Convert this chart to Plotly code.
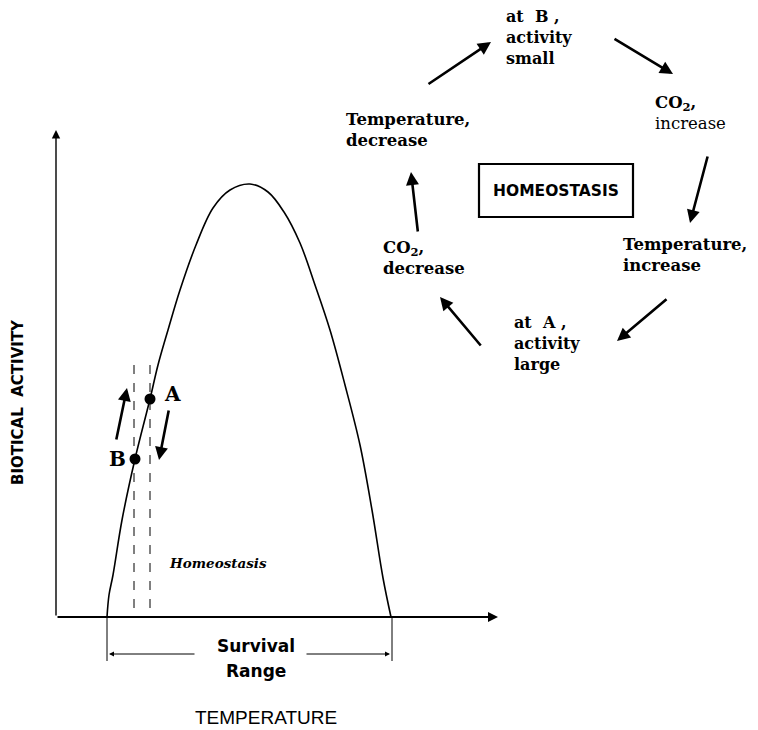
import plotly.graph_objects as go

# ---- data (temperature units ~ px, activity above baseline) ----
temperature = [107, 109, 113, 122, 135, 150, 158, 168, 180, 196, 213, 230, 250,
               268, 284, 300, 315, 330, 345, 360, 372, 383, 391]
activity = [0, 22, 42, 97, 158, 218, 252, 287, 327, 372, 409, 427, 433,
            425, 405, 374, 332, 287, 232, 172, 107, 39, 0]
point_labels = ["A", "B"]
point_temperature = [150, 135]
point_activity = [218, 158]
survival_range = [107, 392]
homeostasis_band = [134, 150]

BASE = 617  # baseline pixel row


def Y(py):
    return BASE - py


fig = go.Figure()

fig.add_trace(go.Scatter(x=temperature, y=activity, mode="lines",
                         line=dict(color="black", width=1.6, shape="spline", smoothing=1.0),
                         hoverinfo="skip"))
fig.add_trace(go.Scatter(x=point_temperature, y=point_activity, mode="markers",
                         marker=dict(color="black", size=11), hoverinfo="skip"))

ann = []
shapes = []

# axes with arrows
ann.append(dict(x=56, y=Y(130), ax=56, ay=Y(617), xref="x", yref="y", axref="x", ayref="y",
                text="", showarrow=True, arrowhead=2, arrowsize=1.2, arrowwidth=1.4, arrowcolor="black"))
ann.append(dict(x=498, y=Y(617), ax=56, ay=Y(617), xref="x", yref="y", axref="x", ayref="y",
                text="", showarrow=True, arrowhead=2, arrowsize=1.0, arrowwidth=2.0, arrowcolor="black"))

# dashed homeostasis band
for hx, top in zip(homeostasis_band, [365, 365]):
    shapes.append(dict(type="line", xref="x", yref="y", x0=hx, x1=hx, y0=Y(top), y1=Y(612),
                       line=dict(color="black", width=1, dash="dash")))

# survival range ticks and arrows
for sx in survival_range:
    shapes.append(dict(type="line", xref="x", yref="y", x0=sx, x1=sx, y0=Y(617), y1=Y(661),
                       line=dict(color="black", width=1)))
ann.append(dict(x=survival_range[0] + 2, y=Y(654), ax=196, ay=Y(654), xref="x", yref="y",
                axref="x", ayref="y", text="", showarrow=True, arrowhead=2, arrowsize=1,
                arrowwidth=1, arrowcolor="black"))
ann.append(dict(x=survival_range[1] - 2, y=Y(654), ax=305, ay=Y(654), xref="x", yref="y",
                axref="x", ayref="y", text="", showarrow=True, arrowhead=2, arrowsize=1,
                arrowwidth=1, arrowcolor="black"))

serifb = "DejaVu Serif"

ann.append(dict(x=256, y=Y(646), xref="x", yref="y", text="<b>Survival</b>", showarrow=False,
                font=dict(family="DejaVu Sans", size=17, color="black")))
ann.append(dict(x=256, y=Y(671), xref="x", yref="y", text="<b>Range</b>", showarrow=False,
                font=dict(family="DejaVu Sans", size=17, color="black")))
ann.append(dict(x=266, y=Y(717), xref="x", yref="y", text="TEMPERATURE", showarrow=False,
                font=dict(family="Liberation Sans", size=19, color="black")))
ann.append(dict(x=18, y=Y(402), xref="x", yref="y", text="<b>BIOTICAL  ACTIVITY</b>",
                showarrow=False, textangle=-90,
                font=dict(family="DejaVu Sans", size=15, color="black")))

# point labels
ann.append(dict(x=172, y=Y(394), xref="x", yref="y", text="<b>A</b>", showarrow=False,
                font=dict(family=serifb, size=20, color="black")))
ann.append(dict(x=117, y=Y(459), xref="x", yref="y", text="<b>B</b>", showarrow=False,
                font=dict(family=serifb, size=20, color="black")))

# small arrows near points
ann.append(dict(x=127, y=Y(388), ax=116, ay=Y(441), xref="x", yref="y", axref="x", ayref="y",
                text="", showarrow=True, arrowhead=2, arrowsize=1, arrowwidth=2.6, arrowcolor="black"))
ann.append(dict(x=159, y=Y(460), ax=169, ay=Y(409), xref="x", yref="y", axref="x", ayref="y",
                text="", showarrow=True, arrowhead=2, arrowsize=1, arrowwidth=2.6, arrowcolor="black"))

ann.append(dict(x=167, y=Y(563), xref="x", yref="y", text="<b><i>Homeostasis</i></b>",
                showarrow=False, xanchor="left",
                font=dict(family=serifb, size=13.5, color="black")))

# ---- cycle diagram ----
def label(x, y, txt, size=16.5):
    ann.append(dict(x=x, y=Y(y), xref="x", yref="y", text=txt, showarrow=False,
                    xanchor="left", yanchor="top", align="left",
                    font=dict(family=serifb, size=size, color="black")))

label(504, 5, "<b>at  B ,<br>activity<br>small</b>", 16)
label(653, 91, "<b>CO<sub>2</sub>,</b><br>increase")
label(621, 233, "<b>Temperature,<br>increase</b>")
label(512, 311, "<b>at  A ,<br>activity<br>large</b>", 16)
label(381, 236, "<b>CO<sub>2</sub>,<br>decrease</b>")
label(344, 108, "<b>Temperature,<br>decrease</b>")

cycle_arrows = [
    ((427, 85), (491, 42)),
    ((613, 38), (673, 74)),
    ((708, 155), (690, 223)),
    ((668, 298), (617, 341)),
    ((482, 347), (440, 297)),
    ((418, 233), (411, 172)),
]
for (tx, ty), (hx, hy) in cycle_arrows:
    ann.append(dict(x=hx, y=Y(hy), ax=tx, ay=Y(ty), xref="x", yref="y", axref="x", ayref="y",
                    text="", showarrow=True, arrowhead=2, arrowsize=1, arrowwidth=2.6,
                    arrowcolor="black"))

shapes.append(dict(type="rect", xref="x", yref="y", x0=479, x1=633, y0=Y(164), y1=Y(217),
                   line=dict(color="black", width=2.2)))
ann.append(dict(x=556, y=Y(191), xref="x", yref="y", text="<b>HOMEOSTASIS</b>", showarrow=False,
                font=dict(family="DejaVu Sans", size=15.5, color="black")))

fig.update_layout(
    width=758, height=730,
    margin=dict(l=0, r=0, t=0, b=0),
    paper_bgcolor="white", plot_bgcolor="white",
    showlegend=False,
    xaxis=dict(range=[0, 758], visible=False, fixedrange=True),
    yaxis=dict(range=[BASE - 730, BASE], visible=False, fixedrange=True),
    annotations=ann, shapes=shapes,
)

fig.write_html("out.html",
               config={"displayModeBar": False},
               post_script="document.body.style.margin='0';document.body.style.overflow='hidden';")
